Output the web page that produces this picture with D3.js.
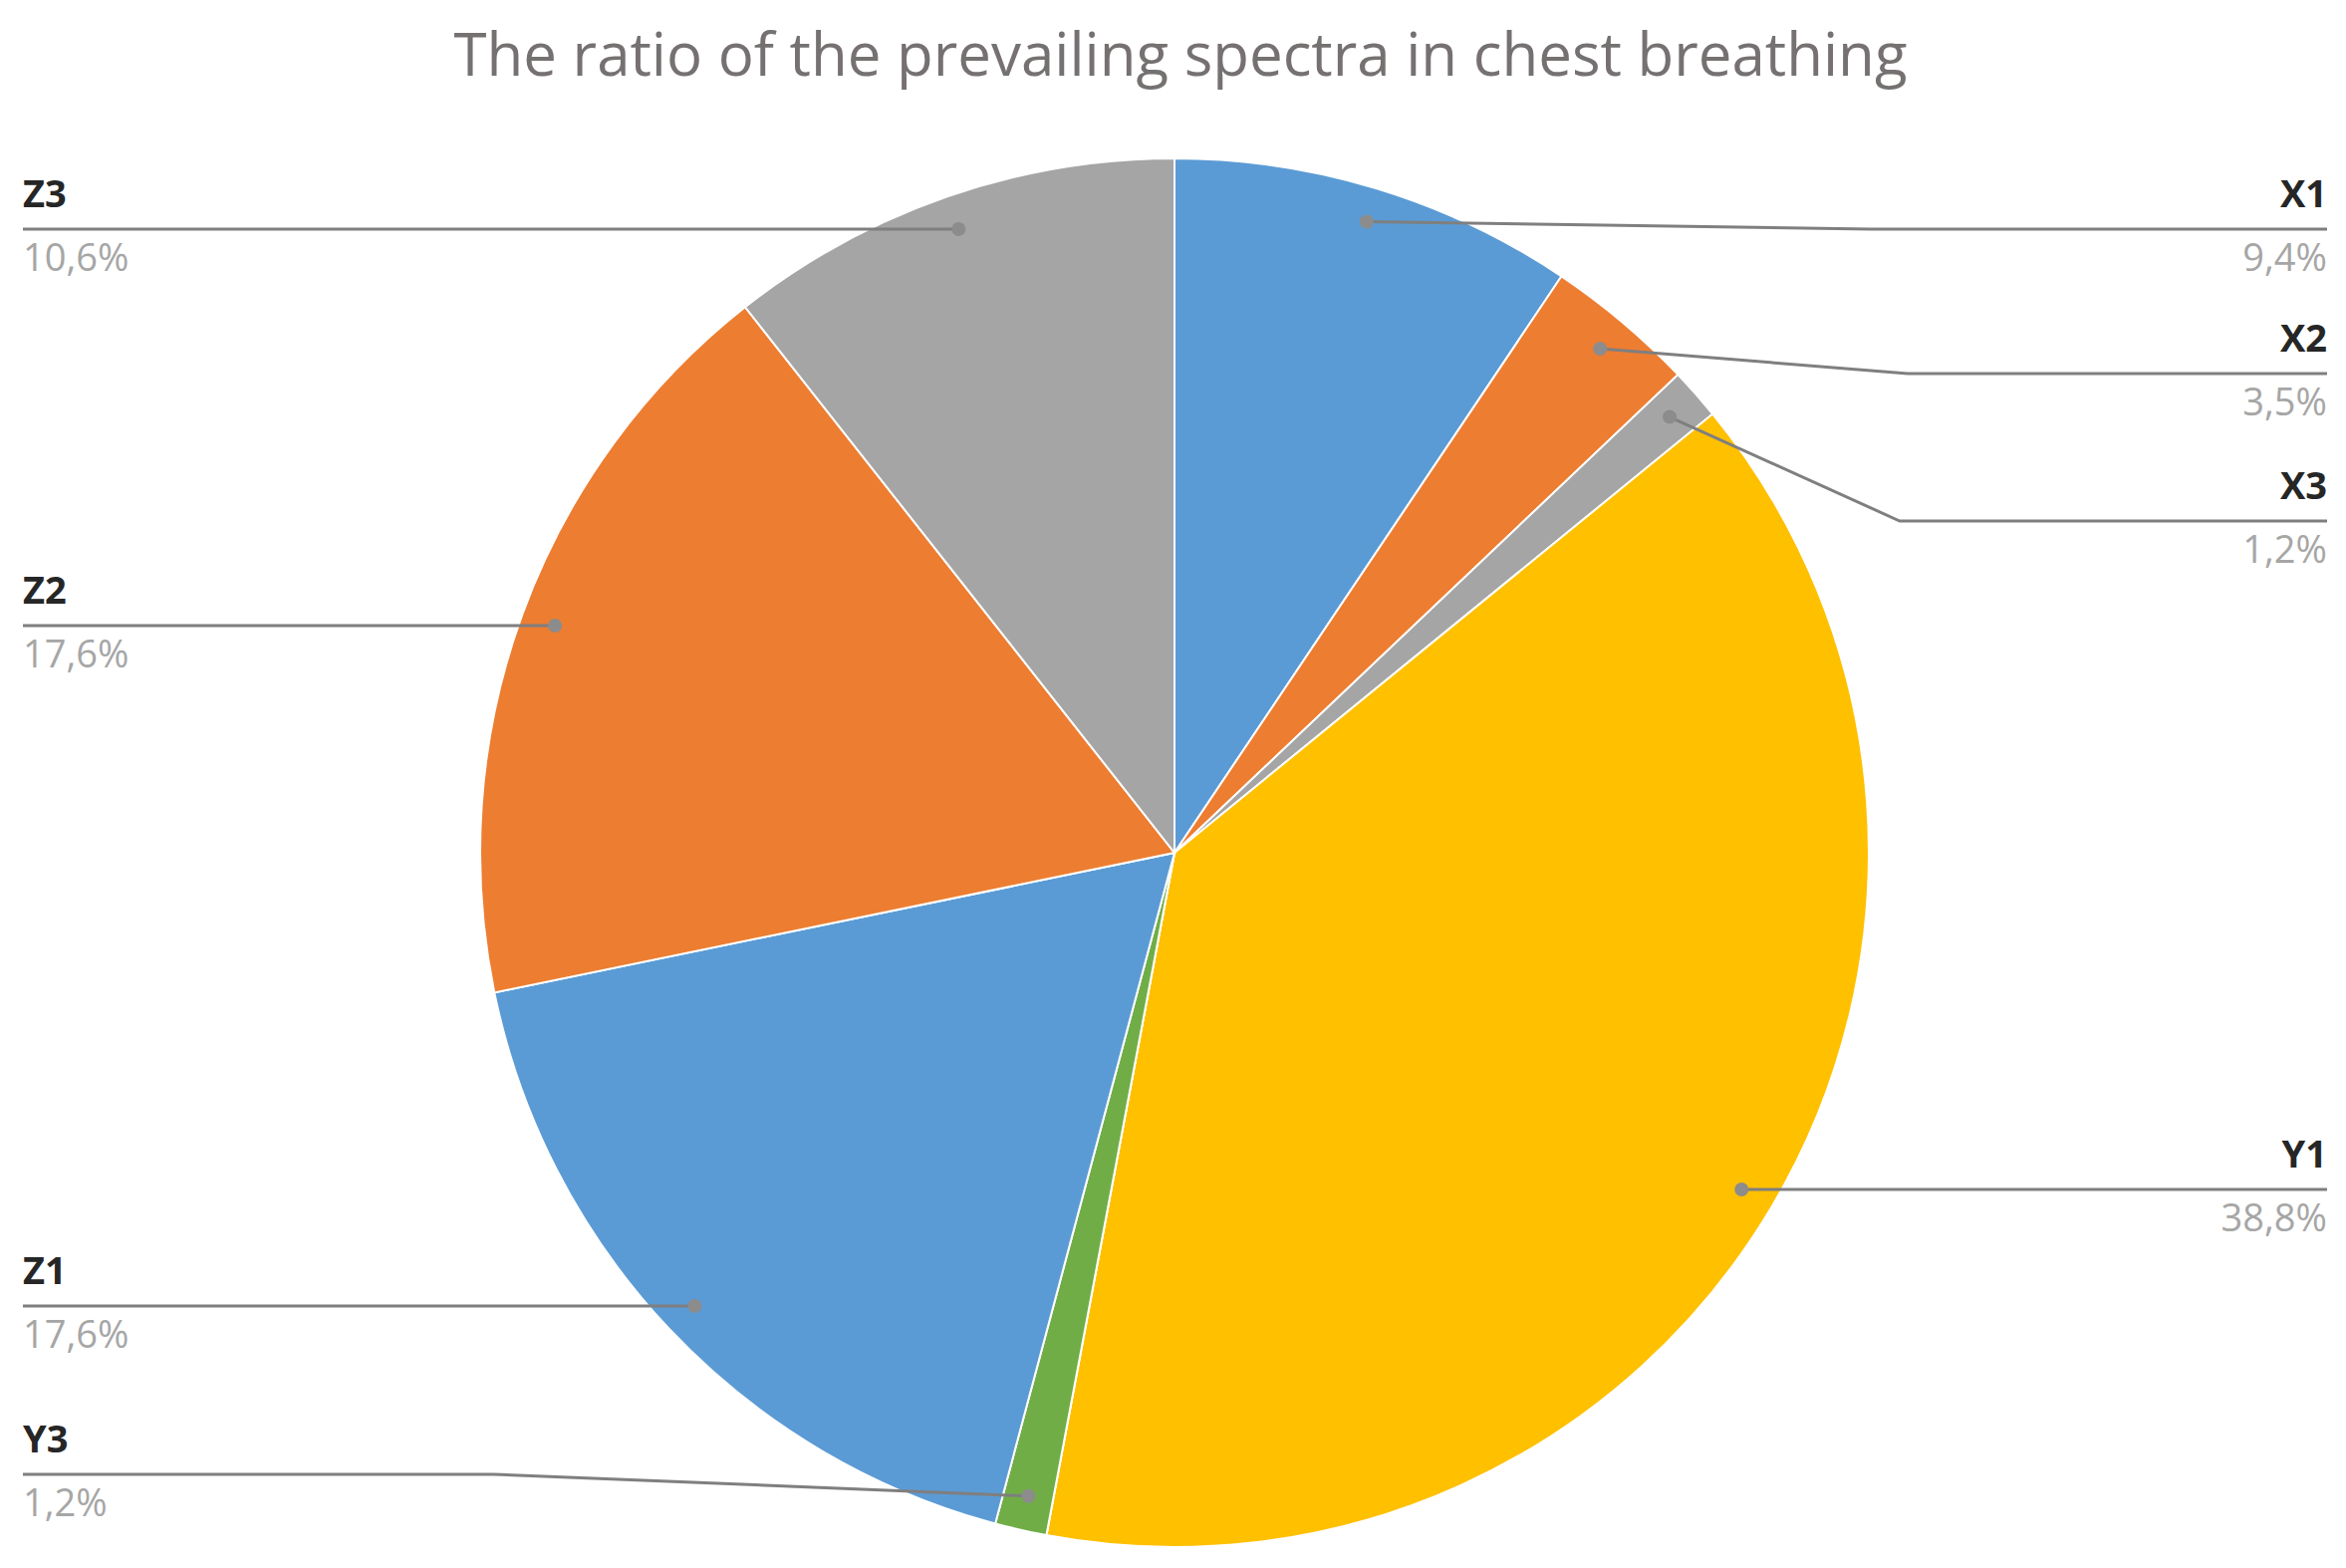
<!DOCTYPE html>
<html><head><meta charset="utf-8">
<script src="https://cdn.jsdelivr.net/npm/d3@7"></script>
<style>html,body{margin:0;background:#fff}</style></head>
<body><svg id="c" width="2355" height="1574"></svg>
<script>
const categories = ["X1","X2","X3","Y1","Y2","Y3","Z1","Z2","Z3"];
const values = [9.4,3.5,1.2,38.8,0,1.2,17.6,17.6,10.6];
const valueLabels = ["9,4%","3,5%","1,2%","38,8%","0,0%","1,2%","17,6%","17,6%","10,6%"];
const colors = ["#5B9BD5","#ED7D31","#A5A5A5","#FFC000","#4472C4","#70AD47","#5B9BD5","#ED7D31","#A5A5A5"];
// layout: label line y, side, elbow x
const layout = {X1:[230,"r",1877],X2:[375,"r",1915],X3:[523,"r",1907],Y1:[1194,"r",null],
  Y3:[1480,"l",496],Z1:[1311,"l",null],Z2:[628,"l",null],Z3:[230,"l",null]};

const svg = d3.select("#c");
const cx=1179, cy=856, R=697;
svg.append("text").attr("x",1185).attr("y",76).attr("text-anchor","middle")
  .attr("font-family","Open Sans, sans-serif").attr("font-size",60).attr("fill","#767171")
  .text("The ratio of the prevailing spectra in chest breathing");
const pie = d3.pie().sort(null).value(d=>d)(values);
const arc = d3.arc().innerRadius(0).outerRadius(R);
const g = svg.append("g").attr("transform",`translate(${cx},${cy})`);
g.selectAll("path").data(pie).join("path").attr("d",arc)
  .attr("fill",(d,i)=>colors[i]).attr("stroke","#fff").attr("stroke-width",2);
const dotArc = d3.arc().innerRadius(R*0.95).outerRadius(R*0.95);
pie.forEach((p,i)=>{
  const name=categories[i]; const L=layout[name]; if(!L) return;
  const [dx,dy]=dotArc.centroid(p); const x=cx+dx, y=cy+dy;
  const endX = L[1]==="r"?2336:23;
  const pts = L[2]!=null?[[x,y],[L[2],L[0]],[endX,L[0]]]:[[x,y],[x,L[0]],[endX,L[0]]];
  if(L[2]==null) pts[0]=[x,L[0]];
  svg.append("path").attr("d",d3.line()(pts)).attr("fill","none").attr("stroke","#7f7f7f").attr("stroke-width",3);
  svg.append("circle").attr("cx",pts[0][0]).attr("cy",pts[0][1]).attr("r",7).attr("fill","#8c8c8c");
  const anchor=L[1]==="r"?"end":"start";
  svg.append("text").attr("x",endX).attr("y",L[0]-22).attr("text-anchor",anchor)
    .attr("font-family","Open Sans, sans-serif").attr("font-weight","bold").attr("font-size",38).attr("fill","#262626").text(name);
  svg.append("text").attr("x",endX).attr("y",L[0]+42).attr("text-anchor",anchor)
    .attr("font-family","Open Sans, sans-serif").attr("font-size",38).attr("fill","#a6a6a6").text(valueLabels[i]);
});
</script></body></html>
